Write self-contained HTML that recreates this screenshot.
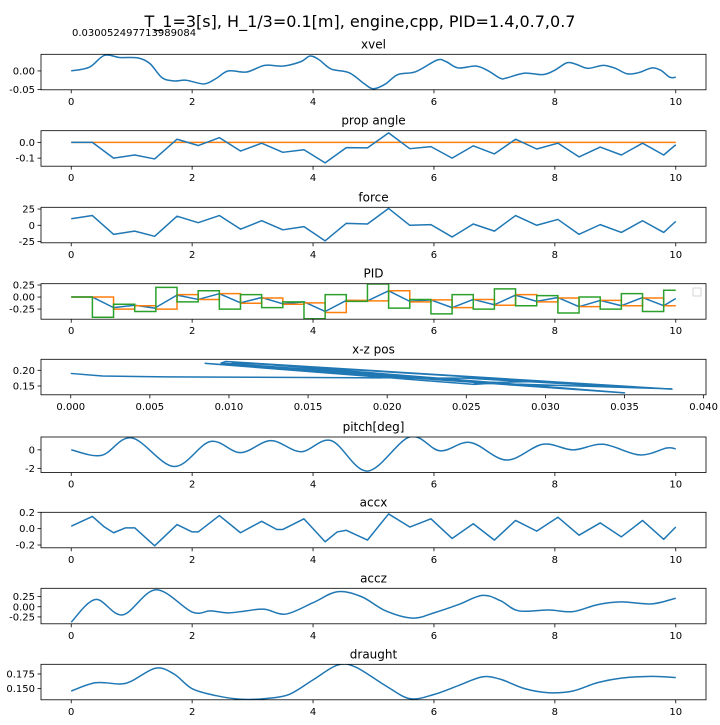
<!DOCTYPE html>
<html><head><meta charset="utf-8"><style>
body{margin:0;background:#fff}
svg text{font-family:"DejaVu Sans","Liberation Sans",sans-serif;fill:#000}
</style></head><body>
<svg id="fig" xmlns="http://www.w3.org/2000/svg" width="720" height="720" viewBox="0 0 720 720">
<rect width="720" height="720" fill="#fff"/>
<text x="72" y="36" font-size="10">0.030052497713989084</text>
<text x="360" y="27" font-size="16" text-anchor="middle">T_1=3[s], H_1/3=0.1[m], engine,cpp, PID=1.4,0.7,0.7</text>
</svg>
<script>
// ---- data ----
const xvelT=[0,0.3,0.55,0.8,1.1,1.3,1.5,1.7,1.9,2.2,2.4,2.6,2.9,3.2,3.5,3.8,3.95,4.1,4.3,4.6,4.85,5.0,5.2,5.4,5.7,6.05,6.2,6.4,6.7,6.9,7.1,7.2,7.5,7.8,8.0,8.2,8.35,8.55,8.8,9.0,9.2,9.4,9.6,9.75,9.9,10];
const xvelV=[0,0.01,0.042,0.036,0.035,0.02,-0.018,-0.027,-0.025,-0.035,-0.02,0.0,-0.003,0.015,0.013,0.025,0.04,0.03,0.005,-0.005,-0.035,-0.048,-0.035,-0.01,-0.002,0.029,0.025,0.008,0.013,0.0,-0.02,-0.019,-0.006,-0.01,0.002,0.022,0.018,0.007,0.015,0.007,-0.008,-0.004,0.008,0.002,-0.017,-0.017];
const kinkT=[0,0.35,0.7,1.05,1.38,1.75,2.1,2.45,2.8,3.15,3.5,3.85,4.2,4.55,4.9,5.25,5.6,5.95,6.3,6.65,7.0,7.35,7.7,8.05,8.4,8.75,9.1,9.45,9.8,10];
const propV=[0,0,-0.1,-0.08,-0.105,0.02,-0.02,0.03,-0.055,-0.005,-0.063,-0.047,-0.13,-0.033,-0.035,0.06,-0.04,-0.027,-0.1,-0.022,-0.073,0.02,-0.042,-0.005,-0.092,-0.03,-0.08,-0.005,-0.08,-0.015];
const propTarget=[0,0];
const forceV=[10,15,-14,-9,-17,14,4,15,-6,7,-7,-2,-24,3,2,26,0,1,-18,2,-9,15,0,9,-14,1,-11,7,-11,6];
const pidV=[0,0,-0.22,-0.17,-0.23,0.04,-0.05,0.07,-0.12,-0.01,-0.14,-0.1,-0.3,-0.07,-0.08,0.13,-0.09,-0.06,-0.22,-0.05,-0.16,0.04,-0.09,-0.01,-0.2,-0.07,-0.18,-0.01,-0.18,-0.03];
const stepT=[0,0.35,0.7,1.05,1.4,1.75,2.1,2.45,2.8,3.15,3.5,3.85,4.2,4.55,4.9,5.25,5.6,5.95,6.3,6.65,7.0,7.35,7.7,8.05,8.4,8.75,9.1,9.45,9.8,10];
const pidOrange=[0,0,-0.25,-0.18,-0.25,0.05,-0.05,0.07,-0.13,-0.02,-0.15,-0.12,-0.32,-0.07,-0.08,0.13,-0.1,-0.06,-0.22,-0.05,-0.17,0.05,-0.1,-0.02,-0.2,-0.07,-0.18,-0.02,-0.18];
const pidGreen=[0,-0.42,-0.15,-0.3,0.2,-0.1,0.13,-0.25,0.05,-0.22,-0.1,-0.45,0.05,-0.09,0.27,-0.23,-0.05,-0.35,0.05,-0.25,0.17,-0.18,0.03,-0.33,0.0,-0.25,0.07,-0.3,0.14];
const xzX=[0,0.002,0.006,0.015,0.025,0.032,0.038,0.0098,0.0095,0.027,0.0255,0.0085,0.035,0.012,0.038,0.0102,0.03,0.0255,0.038];
const xzZ=[0.19,0.182,0.179,0.177,0.175,0.155,0.14,0.228,0.223,0.16,0.155,0.222,0.128,0.22,0.14,0.225,0.165,0.16,0.141];
const pitchT=[0,0.5,1.0,1.7,2.3,2.8,3.3,3.8,4.3,4.9,5.6,6.1,6.6,7.2,7.8,8.3,8.8,9.4,9.85,10];
const pitchV=[0,-0.6,1.3,-1.8,0.9,-0.3,1.0,-0.2,1.0,-2.3,1.4,-0.1,0.8,-1.1,0.6,0.0,0.6,-0.55,0.2,0.1];
const accxT=[0,0.35,0.55,0.7,0.9,1.05,1.38,1.75,2.0,2.1,2.45,2.8,3.15,3.4,3.5,3.85,4.2,4.4,4.55,4.9,5.25,5.6,5.95,6.3,6.65,7.0,7.35,7.7,8.05,8.4,8.75,9.1,9.45,9.8,10];
const accxV=[0.03,0.15,0.02,-0.05,0.01,0.01,-0.21,0.05,-0.04,-0.04,0.16,-0.05,0.09,-0.01,-0.01,0.12,-0.16,-0.04,-0.02,-0.14,0.18,0.02,0.12,-0.12,0.06,-0.14,0.1,-0.03,0.14,-0.08,0.07,-0.1,0.1,-0.13,0.02];
const acczT=[0,0.4,0.85,1.4,2.0,2.3,2.6,2.9,3.2,3.55,4.0,4.4,4.8,5.2,5.65,6.0,6.4,6.8,7.1,7.4,7.9,8.3,8.7,9.1,9.6,10];
const acczV=[-0.38,0.18,-0.2,0.42,-0.13,-0.1,-0.15,-0.1,-0.06,-0.18,0.1,0.37,0.25,-0.1,-0.28,-0.15,0.05,0.28,0.15,-0.1,-0.08,-0.12,0.05,0.12,0.07,0.21];
const draughtT=[0,0.4,0.8,1.0,1.4,1.7,2.0,2.4,2.8,3.2,3.6,4.0,4.4,4.7,5.2,5.6,6.0,6.4,6.8,7.1,7.5,7.9,8.3,8.7,9.1,9.6,10];
const draughtV=[0.146,0.16,0.158,0.163,0.185,0.175,0.15,0.138,0.132,0.133,0.14,0.165,0.19,0.187,0.155,0.133,0.14,0.155,0.17,0.166,0.15,0.143,0.146,0.16,0.168,0.171,0.169];
const timeTicks=[0,2,4,6,8,10];
const xzTicks=[0,0.005,0.01,0.015,0.02,0.025,0.03,0.035,0.04];

const NS="http://www.w3.org/2000/svg";
const svg=document.getElementById('fig');
const L=41,R=706,H=35.5;
const C={b:'#1f77b4',o:'#ff7f0e',g:'#2ca02c'};
function mk(tag,attrs,parent){const e=document.createElementNS(NS,tag);for(const k in attrs)e.setAttribute(k,attrs[k]);(parent||svg).appendChild(e);return e;}
function smoothPath(P){let d='M'+P[0][0]+','+P[0][1];for(let i=0;i<P.length-1;i++){const p0=P[i-1]||P[i],p1=P[i],p2=P[i+1],p3=P[i+2]||p2;d+=' C'+(p1[0]+(p2[0]-p0[0])/6)+','+(p1[1]+(p2[1]-p0[1])/6)+' '+(p2[0]-(p3[0]-p1[0])/6)+','+(p2[1]-(p3[1]-p1[1])/6)+' '+p2[0]+','+p2[1];}return d;}
function linPath(P){return 'M'+P.map(p=>p[0]+','+p[1]).join(' L');}
function panel(name,title,top,xmin,xmax,ymin,ymax,yticks,yfmt,xticks,xfmt){
  const g=mk('g',{});
  
  
  const sx=v=>L+(v-xmin)/(xmax-xmin)*(R-L);
  const sy=v=>top+H-(v-ymin)/(ymax-ymin)*H;
  const t=mk('text',{x:(L+R)/2,y:top-6,'font-size':12,'text-anchor':'middle'},g);t.textContent=title;
  
  
  yticks.forEach(v=>{const y=sy(v);mk('line',{x1:L-3.5,x2:L,y1:y,y2:y,stroke:'#000','stroke-width':0.8},g);
    const tx=mk('text',{x:L-6,y:y+3.5,'font-size':10,'text-anchor':'end'},g);tx.textContent=yfmt(v);
    
    });
  xticks.forEach(v=>{const x=sx(v);mk('line',{x1:x,x2:x,y1:top+H,y2:top+H+3.5,stroke:'#000','stroke-width':0.8},g);
    const tx=mk('text',{x:x,y:top+H+15,'font-size':10,'text-anchor':'middle'},g);tx.textContent=xfmt(v);
    
    });
  const clipId='c'+name;const cp=mk('clipPath',{id:clipId},g);mk('rect',{x:L,y:top,width:R-L,height:H},cp);
  const plot=mk('g',{'clip-path':'url(#'+clipId+')'},g);
  const frame=()=>{const f=mk('rect',{x:L,y:top,width:R-L,height:H,fill:'none',stroke:'#000','stroke-width':0.8},g);
    
    };
  return {g,plot,sx,sy,frame};
}
function series(p,xs,ys,color,smooth,name){
  const P=xs.map((x,i)=>[p.sx(x),p.sy(ys[i])]);
  const e=mk('path',{d:smooth?smoothPath(P):linPath(P),fill:'none',stroke:color,'stroke-width':1.5,'stroke-linejoin':'round'},p.plot);
  
  
}
function steps(p,ts,vs,color,name){
  let d='';vs.forEach((v,i)=>{const x1=p.sx(ts[i]),x2=p.sx(ts[i+1]),y=p.sy(v);d+=(i?' L':'M')+x1+','+y+' L'+x2+','+y;});
  const e=mk('path',{d:d,fill:'none',stroke:color,'stroke-width':1.5},p.plot);
  
  
}
const f2=v=>v.toFixed(2),f1=v=>v.toFixed(1),f0=v=>String(Math.round(v)),f3=v=>v.toFixed(3);
let p;
p=panel('xvel','xvel',54.3,-0.5,10.5,-0.0508,0.0447,[-0.05,0],f2,timeTicks,f0);
series(p,xvelT,xvelV,C.b,true,'xvel-line');p.frame();
p=panel('prop-angle','prop angle',130.7,-0.5,10.5,-0.151,0.074,[-0.1,0],f1,timeTicks,f0);
series(p,[0,10],propTarget,C.o,false,'prop-angle-target-line');
series(p,kinkT,propV,C.b,false,'prop-angle-line');p.frame();
p=panel('force','force',207.3,-0.5,10.5,-27,27.7,[-25,0,25],f0,timeTicks,f0);
series(p,kinkT,forceV,C.b,false,'force-line');p.frame();
p=panel('pid','PID',283.7,-0.5,10.5,-0.46,0.277,[-0.25,0,0.25],f2,timeTicks,f0);
series(p,kinkT,pidV,C.b,false,'pid-error-line');
steps(p,stepT,pidOrange,C.o,'pid-orange-steps');
steps(p,stepT,pidGreen,C.g,'pid-green-steps');p.frame();
const lg=mk('rect',{x:693,y:288,width:8,height:8,fill:'#fff',stroke:'#ccc','stroke-width':0.8});


p=panel('xz-pos','x-z pos',359.3,-0.00188,0.04015,0.122,0.235,[0.15,0.2],f2,xzTicks,f3);
series(p,xzX,xzZ,C.b,false,'xz-trajectory');p.frame();
p=panel('pitch','pitch[deg]',437,-0.5,10.5,-2.45,1.39,[-2,0],f0,timeTicks,f0);
series(p,pitchT,pitchV,C.b,true,'pitch-line');p.frame();
p=panel('accx','accx',512.3,-0.5,10.5,-0.234,0.2,[-0.2,0,0.2],f1,timeTicks,f0);
series(p,accxT,accxV,C.b,false,'accx-line');p.frame();
p=panel('accz','accz',588.3,-0.5,10.5,-0.42,0.455,[-0.25,0,0.25],f2,timeTicks,f0);
series(p,acczT,acczV,C.b,true,'accz-line');p.frame();
p=panel('draught','draught',664.3,-0.5,10.5,0.131,0.1915,[0.15,0.175],f3,timeTicks,f0);
series(p,draughtT,draughtV,C.b,true,'draught-line');p.frame();
</script>
</body></html>
